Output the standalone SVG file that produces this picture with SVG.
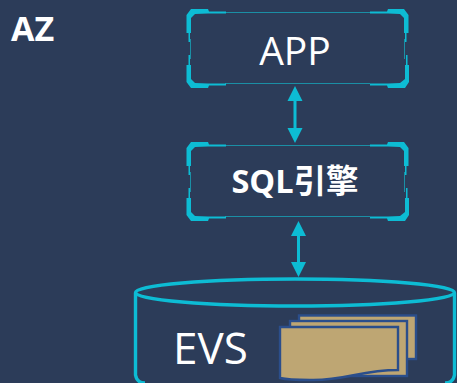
<svg xmlns="http://www.w3.org/2000/svg" width="457" height="383" viewBox="0 0 457 383">
<style>
text{font-family:"Open Sans","Noto Sans CJK SC",sans-serif;fill:#fff}
.thin{stroke:#1b8fa5;stroke-width:1;fill:none}
.c{fill:#0dbcd4}
.cy{stroke:#0dbcd4;stroke-width:3.400;fill:none}
.a{stroke:#0dbcd4;stroke-width:3;fill:none}
.h{fill:#0dbcd4}
</style>
<defs>
<g id="frame">
<path class="thin" d="M225 3.500H370M225 74.500H370M190.500 30V50M404.500 30V50"/>
<path class="c" d="M186.500 6L191 0H208L209 2.500H226V4.500H208L195 5L191 9V24L190 24V33H188.500V24L186.500 24Z"/>
<path class="c" d="M408.500 6L404 0H388L387 2.500H370V4.500H388L400 5L404 9V24L405 24V33H406.500V24L408.500 24Z"/>
<path class="c" d="M186.500 73L191 79H208L209 76.500H226V74.500H208L195 74L191 70V56L190 56V46H188.500V56L186.500 56Z"/>
<path class="c" d="M409 73L405 79H388L387 76.500H370V74.500H388L400 74L405 70V56L406 56V46H407.500V56L409 56Z"/>
</g>
</defs>
<rect width="457" height="383" fill="#2c3c59"/>
<g id="connectors">
<path class="a" d="M295 94V134"/>
<path class="h" d="M295 86L287.500 101H302.500ZM295 143L287.500 128H302.500Z"/>
<path class="a" d="M298.500 230V270"/>
<path class="h" d="M298.500 221L291 236H306ZM298.500 277L291 262H306Z"/>
</g>
<g id="az"><text x="11" y="41" font-size="34" font-weight="700">AZ</text></g>
<g id="app">
<use href="#frame" y="9"/>
<text x="295" y="65" font-size="39" text-anchor="middle">APP</text>
</g>
<g id="sql">
<use href="#frame" y="142"/>
<text x="295" y="193" font-size="32.500" font-weight="700" text-anchor="middle">SQL引擎</text>
</g>
<g id="evs">
<path class="cy" d="M135.500 293V375Q137 383 145 383M454.500 293V375Q453 383 445 383"/>
<ellipse class="cy" cx="295" cy="292.500" rx="159.500" ry="13.500"/>
<text x="173" y="364" font-size="44">EVS</text>
<g fill="#bea673" stroke="#2b4e8b" stroke-width="2.400">
<rect x="299" y="315.500" width="117" height="43.500"/>
<rect x="290" y="321" width="117" height="55"/>
<path d="M280 327H398V370C360 370 345 381 310 380C297 380 288 380 280 378Z"/>
</g>
</g>
</svg>
